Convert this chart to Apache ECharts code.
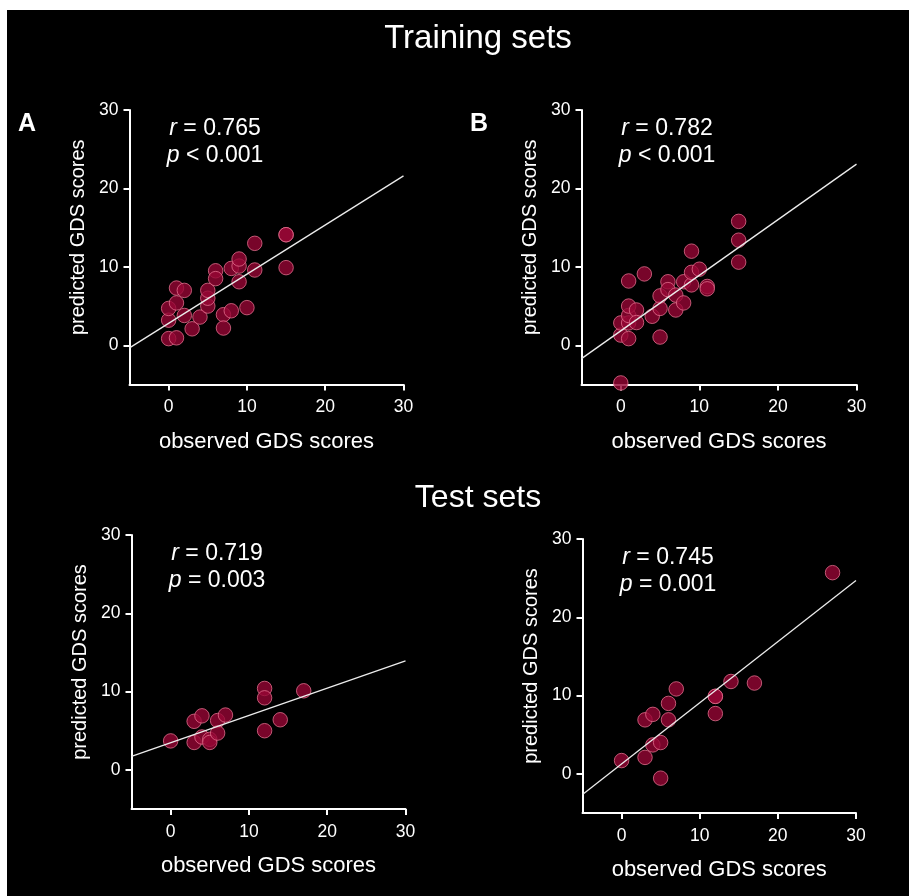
<!DOCTYPE html>
<html><head><meta charset="utf-8">
<script src="https://cdn.jsdelivr.net/npm/echarts@6/dist/echarts.min.js"></script>
<style>html,body{margin:0;padding:0;background:#fff}#c{width:909px;height:896px}</style>
</head><body><div id="c"></div><script>
// ---- data ----
const xTicks = [0, 10, 20, 30];
const yTicks = [0, 10, 20, 30];

const trainA_x = [0, 1, 0, 0, 1, 1, 2, 2, 3, 4, 5, 5, 5, 6, 6, 7, 7, 8, 8, 9, 9, 9, 10, 11, 11, 15, 15, 15];
const trainA_y = [0.85, 0.95, 3.2, 4.7, 5.4, 7.3, 7.0, 3.8, 2.1, 3.6, 5.0, 6.0, 7.0, 9.5, 8.5, 3.9, 2.2, 4.4, 9.8, 10.1, 11.0, 8.1, 4.8, 9.6, 13.0, 14.1, 14.1, 9.9];

const trainB_x = [0, 0, 0, 1, 1, 1, 1, 1, 2, 2, 3, 4, 5, 5, 5, 6, 6, 7, 7, 8, 8, 9, 9, 9, 10, 11, 11, 15, 15, 15];
const trainB_y = [-4.8, 1.3, 2.85, 0.85, 2.85, 3.8, 5.0, 8.2, 4.5, 2.9, 9.1, 3.7, 1.05, 4.7, 6.3, 8.1, 7.1, 4.5, 6.4, 5.4, 8.1, 7.7, 9.3, 12.0, 9.7, 7.5, 7.2, 15.8, 13.4, 10.6];

const testA_x = [0, 3, 3, 4, 4, 5, 5, 6, 6, 7, 12, 12, 12, 14, 17];
const testA_y = [3.7, 6.2, 3.5, 6.9, 4.2, 3.9, 3.5, 6.3, 4.7, 7.0, 10.4, 9.2, 5.0, 6.4, 10.1];

const testB_x = [0, 3, 3, 4, 4, 5, 5, 6, 6, 7, 12, 12, 12, 14, 17, 27];
const testB_y = [1.7, 2.1, 6.9, 7.6, 3.7, 4.0, -0.55, 9.0, 6.9, 10.85, 9.9, 9.9, 7.7, 11.8, 11.6, 25.7];

// regression line end points
const lineA_x = [-5, 30], lineA_y = [-0.33, 21.6];
const lineB_x = [-5, 30], lineB_y = [-1.7, 23.1];
const lineC_x = [-5, 30], lineC_y = [1.71, 13.93];
const lineD_x = [-5, 30], lineD_y = [-2.63, 24.7];

const statR = ['0.765', '0.782', '0.719', '0.745'];
const statP = ['< 0.001', '< 0.001', '= 0.003', '= 0.001'];
const panelLetters = ['A', 'B', '', ''];

// ---- layout ----
const FF = '"Liberation Sans", Arial, Helvetica, sans-serif';
const grids = [
  { left: 129.5, top: 110, width: 274, height: 274.5 },
  { left: 581.5, top: 110, width: 275, height: 274.5 },
  { left: 131.5, top: 535, width: 274, height: 274 },
  { left: 582.5, top: 539, width: 273.5, height: 274 }
];
const pts = [[trainA_x, trainA_y], [trainB_x, trainB_y], [testA_x, testA_y], [testB_x, testB_y]];
const lines = [[lineA_x, lineA_y], [lineB_x, lineB_y], [lineC_x, lineC_y], [lineD_x, lineD_y]];
const zip = (a, b) => a.map((v, i) => [v, b[i]]);

const xAxes = [], yAxes = [], series = [], graphics = [];
graphics.push({ type: 'rect', shape: { x: 7, y: 10, width: 902, height: 886 }, style: { fill: '#000' }, z: -100, silent: true });
graphics.push({ type: 'text', x: 478, y: 39, z: 10, style: { text: 'Training sets', fill: '#fff', fontSize: 33, fontFamily: FF, textAlign: 'center', textVerticalAlign: 'middle' } });
graphics.push({ type: 'text', x: 478, y: 498, z: 10, style: { text: 'Test sets', fill: '#fff', fontSize: 32, fontFamily: FF, textAlign: 'center', textVerticalAlign: 'middle' } });

grids.forEach((g, i) => {
  xAxes.push({
    gridIndex: i, type: 'value', min: -5, max: 30,
    axisLine: { show: true, onZero: false, lineStyle: { color: '#fff', width: 2 } },
    axisTick: { show: true, length: 6, lineStyle: { color: '#fff', width: 2 }, customValues: xTicks },
    axisLabel: { color: '#fff', fontSize: 17.5, margin: 14, fontFamily: FF, customValues: xTicks },
    splitLine: { show: false },
    name: 'observed GDS scores', nameLocation: 'middle', nameGap: 46,
    nameTextStyle: { color: '#fff', fontSize: 22, fontFamily: FF }
  });
  yAxes.push({
    gridIndex: i, type: 'value', min: -5, max: 30,
    axisLine: { show: true, onZero: false, lineStyle: { color: '#fff', width: 2 } },
    axisTick: { show: true, length: 6, lineStyle: { color: '#fff', width: 2 }, customValues: yTicks },
    axisLabel: { color: '#fff', fontSize: 17.5, margin: 11, fontFamily: FF, customValues: yTicks },
    splitLine: { show: false }
  });
  series.push({
    type: 'scatter', xAxisIndex: i, yAxisIndex: i, symbolSize: 14.5, z: 3,
    data: zip(pts[i][0], pts[i][1]),
    itemStyle: { color: 'rgba(150,6,52,0.8)', borderColor: 'rgba(228,112,142,0.78)', borderWidth: 1, opacity: 1 }
  });
  series.push({
    type: 'line', xAxisIndex: i, yAxisIndex: i, symbol: 'none', z: 4, silent: true,
    data: zip(lines[i][0], lines[i][1]),
    lineStyle: { color: '#ececec', width: 1.3 }
  });
  // y axis name
  graphics.push({ type: 'text', x: g.left - 51.5, y: g.top + g.height / 2 - 10, rotation: Math.PI / 2, z: 10,
    style: { text: 'predicted GDS scores', fill: '#fff', fontSize: 20, fontFamily: FF, textAlign: 'center', textVerticalAlign: 'middle' } });
  // stats
  const rich = {
    i: { fontStyle: 'italic', fontSize: 23, fontFamily: FF, fill: '#fff' },
    n: { fontSize: 23, fontFamily: FF, fill: '#fff' }
  };
  graphics.push({ type: 'text', x: g.left + 85.5, y: g.top + 18.5, z: 10,
    style: { text: '{i|r}{n| = ' + statR[i] + '}', rich: rich, fill: '#fff', fontSize: 23, fontFamily: FF, textAlign: 'center', textVerticalAlign: 'middle' } });
  graphics.push({ type: 'text', x: g.left + 85.5, y: g.top + 46, z: 10,
    style: { text: '{i|p}{n| ' + statP[i] + '}', rich: rich, fill: '#fff', fontSize: 23, fontFamily: FF, textAlign: 'center', textVerticalAlign: 'middle' } });
  if (panelLetters[i]) {
    graphics.push({ type: 'text', x: g.left - 102.5, y: 124, z: 10,
      style: { text: panelLetters[i], fill: '#fff', fontSize: 25, fontWeight: 'bold', fontFamily: FF, textAlign: 'center', textVerticalAlign: 'middle' } });
  }
});

const chart = echarts.init(document.getElementById('c'), null, { renderer: 'canvas' });
chart.setOption({
  backgroundColor: '#fff',
  animation: false,
  grid: grids.map(g => Object.assign({ containLabel: false, outerBoundsMode: 'none' }, g)),
  xAxis: xAxes,
  yAxis: yAxes,
  series: series,
  graphic: { elements: graphics }
});
</script></body></html>
